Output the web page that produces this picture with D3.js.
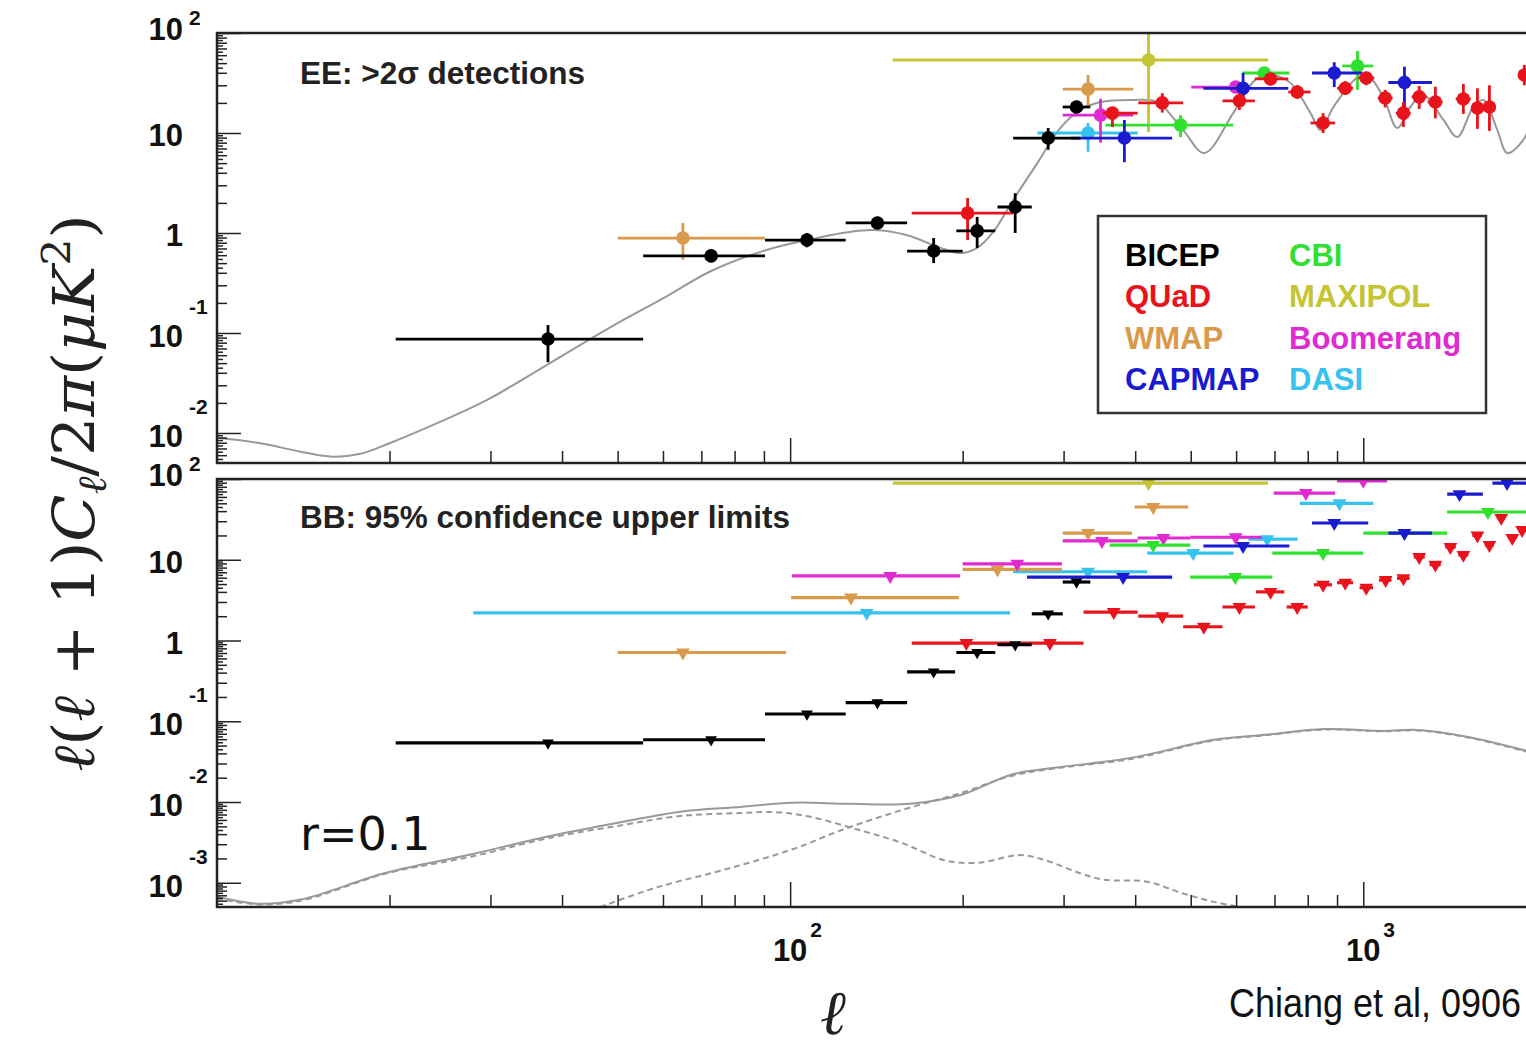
<!DOCTYPE html>
<html>
<head>
<meta charset="utf-8">
<script src="https://cdn.jsdelivr.net/npm/d3@7"></script>
<style>
body { margin: 0; background: #fff; }
svg { display: block; }
</style>
</head>
<body>
<div id="chart"></div>
<script>
// experiments (legend order, two columns)
var legendLeft = ["BICEP", "QUaD", "WMAP", "CAPMAP"];
var legendRight = ["CBI", "MAXIPOL", "Boomerang", "DASI"];
var colors = {
	BICEP: "#000000", QUaD: "#e8141c", WMAP: "#d99a4c", CAPMAP: "#1a1ad0",
	CBI: "#2fe02f", MAXIPOL: "#c4c434", Boomerang: "#e02ad2", DASI: "#36c2ee"
};

// EE >2 sigma detections: [ell, ellLo, ellHi, value, valueLo, valueHi]
var eeMAXIPOL = [[422, 151, 682, 53.7, 10.2, 150]];
var eeDASI = [[331, 270, 404, 10, 6.5, 12.6]];
var eeWMAP = [[65, 50, 90.4, 0.89, 0.54, 1.26], [331, 299, 397, 27.5, 18, 38]];
var eeBoomerang = [[348, 299, 397, 15.1, 8, 22], [599, 501, 610, 28.8, 25, 33]];
var eeCBI = [[480, 355, 593, 12, 9.1, 15.1], [672, 615, 743, 39.8, 35, 45], [977, 919, 1041, 46.8, 27, 66]];
var eeCAPMAP = [[383, 309, 464, 8.9, 5.1, 13.5], [617, 526, 740, 28, 21, 40], [890, 814, 996, 39.8, 28.8, 51], [1180, 1106, 1318, 32, 13.5, 46]];
var eeQUaD = [
	[204, 163, 245, 1.58, 0.85, 2.24], [365, 351, 404, 15.8, 11.5, 18.2], [446, 405, 485, 20, 16, 25],
	[608, 568, 647, 21, 17, 25], [689, 647, 740, 34.7, 30, 40], [767, 740, 809, 25.7, 22, 30],
	[851, 809, 893, 12.6, 10, 15.8], [930, 900, 960, 28, 24, 33], [1012, 980, 1045, 35.5, 30, 41],
	[1092, 1060, 1125, 22.4, 18, 27], [1175, 1140, 1210, 15.8, 11.5, 20.4], [1252, 1215, 1290, 23, 17.4, 29.5],
	[1336, 1295, 1375, 20.4, 14, 29], [1495, 1450, 1540, 21.9, 15.5, 31], [1582, 1545, 1620, 17.8, 11, 28],
	[1660, 1625, 1700, 18.2, 10.5, 30], [1910, 1870, 1950, 38, 30, 48]
];
var eeBICEP = [
	[37.8, 20.5, 55.4, 0.087, 0.051, 0.12], [72.8, 55.4, 90.4, 0.59, 0.51, 0.68], [107, 90.4, 125, 0.85, 0.72, 1.0],
	[142, 125, 160, 1.26, 1.1, 1.45], [178, 160, 200, 0.66, 0.5, 0.89], [212, 195, 228, 1.05, 0.71, 1.45],
	[247, 230, 264, 1.82, 1.0, 2.5], [282, 245, 321, 8.9, 6.8, 11.2], [316, 299, 334, 18.2, 16, 21]
];

// BB 95% upper limits: [ell, ellLo, ellHi, limit]
var bbMAXIPOL = [[422, 151, 682, 89]];
var bbDASI = [[136, 28, 242, 2.2], [331, 245, 420, 7.1], [505, 420, 594, 12.1], [680, 630, 768, 18], [909, 775, 1041, 50]];
var bbWMAP = [[65, 50, 98.4, 0.71], [127.7, 100.4, 197, 3.4], [230, 200, 298, 7.6], [331, 299, 395, 21.4], [430, 399, 495, 45]];
var bbBoomerang = [[149.5, 100.8, 198, 6.3], [249, 200, 298, 8.9], [350, 299, 404, 17.1], [448, 404, 499, 18.6], [599, 499, 665, 19], [794, 698, 893, 67], [1000, 900, 1100, 95]];
var bbCBI = [[1180, 1000, 1401, 21.4], [1650, 1401, 1950, 39], [430, 361, 499, 15.2], [598, 499, 694, 6.1], [851, 694, 1000, 12.1]];
var bbCAPMAP = [[381, 259, 464, 6.1], [617, 526, 743, 14.8], [890, 814, 1020, 28.5], [1180, 1106, 1318, 21.4], [1472, 1401, 1617, 65], [1782, 1680, 1950, 89]];
var bbQUaD = [
	[203, 163, 245, 0.93], [284, 249, 325, 0.93], [367, 325, 404, 2.25], [446, 405, 485, 2.0],
	[527, 485, 568, 1.48], [608, 568, 647, 2.6], [689, 650, 728, 4.0], [767, 735, 800, 2.6],
	[851, 820, 882, 4.9], [930, 900, 960, 5.2], [1012, 985, 1040, 4.5], [1094, 1065, 1120, 5.6],
	[1175, 1145, 1205, 5.9], [1252, 1225, 1280, 10.8], [1336, 1305, 1365, 8.7], [1419, 1390, 1450, 14.4],
	[1495, 1465, 1525, 11.5], [1582, 1550, 1610, 20], [1660, 1630, 1690, 15.2], [1741, 1710, 1770, 33],
	[1820, 1790, 1850, 18.6], [1893, 1865, 1925, 23.4]
];
var bbBICEP = [
	[37.8, 20.5, 55.4, 0.054], [72.8, 55.4, 90.4, 0.059], [107, 90.4, 125, 0.123], [142, 125, 160, 0.17],
	[178, 160, 194, 0.41], [212, 195, 228, 0.71], [247, 230, 264, 0.89], [282, 264, 299, 2.14], [316, 299, 334, 5.3]
];

// theory curves
var eeTheoryEll = [10.1, 11.9, 14.0, 15.9, 17.8, 20.0, 24.5, 29.6, 38.1, 48.7, 61, 72.8, 91.2, 107, 126, 140, 160, 183, 198, 212, 226, 245, 270, 296, 321, 348, 397, 437, 485, 528, 593, 648, 683, 743, 809, 842, 887, 977, 1016, 1084, 1146, 1208, 1273, 1380, 1459, 1556, 1620, 1714, 1783, 1901, 1954];
var eeTheoryVal = [0.0089, 0.0079, 0.0065, 0.0058, 0.0062, 0.0079, 0.0129, 0.0214, 0.050, 0.115, 0.234, 0.417, 0.68, 0.85, 1.02, 1.07, 0.95, 0.71, 0.63, 0.71, 1.02, 2.14, 5.0, 11.2, 17, 20.4, 21.4, 20.4, 10.7, 6.3, 15.8, 34, 38, 32.4, 15.8, 10.7, 18.2, 36, 38, 22.9, 11.2, 18.2, 24, 13.5, 9.1, 18.2, 21.4, 10.7, 6.3, 8.5, 12];
var bbTotalEll = [10, 11.8, 14.0, 19.7, 27.7, 38.1, 51.1, 64.3, 82, 100.8, 127, 162, 199, 243, 289, 392, 549, 674, 855, 1083, 1242, 1524, 1954];
var bbTotalVal = [0.00067, 0.00055, 0.00062, 0.00133, 0.00224, 0.0038, 0.0057, 0.0076, 0.0087, 0.0098, 0.0095, 0.0095, 0.0123, 0.0218, 0.0265, 0.035, 0.059, 0.068, 0.080, 0.076, 0.078, 0.064, 0.042];
var bbTensorEll = [10, 11.8, 14.0, 19.7, 27.7, 38.1, 51.1, 64.3, 82, 94.2, 108, 132, 157, 186, 213, 252, 279, 319, 353, 420, 481, 549, 622];
var bbTensorVal = [0.00064, 0.00054, 0.0006, 0.0013, 0.0021, 0.0036, 0.0052, 0.0067, 0.0073, 0.0075, 0.0066, 0.0045, 0.0031, 0.0019, 0.00177, 0.0022, 0.0019, 0.00133, 0.00109, 0.00103, 0.00075, 0.00058, 0.00049];
var bbLensEll = [46.6, 58.3, 76.7, 101, 123, 157, 199, 243, 289, 392, 549, 674, 855, 1083, 1242, 1524, 1954];
var bbLensVal = [0.0005, 0.00087, 0.00145, 0.0026, 0.0045, 0.008, 0.013, 0.021, 0.026, 0.034, 0.058, 0.067, 0.079, 0.075, 0.077, 0.063, 0.041];

var xMajor = [100, 1000];

// canvas
var W = 1526, H = 1052;
var svg = d3.select("#chart").append("svg")
	.attr("width", W)
	.attr("height", H)
	.style("font-family", "'Liberation Sans', Arial, sans-serif");
svg.append("rect").attr("width", W).attr("height", H).attr("fill", "#fff");

var left = 217, right = 1530;
var x = d3.scaleLog().domain([10, 1954]).range([left, right]);
var yEE = d3.scaleLog().domain([Math.pow(10, -2.3), 100]).range([463, 33]);
var yBB = d3.scaleLog().domain([Math.pow(10, -3.3), 100]).range([907, 479]);

var line = (y) => d3.line().x(d => x(d[0])).y(d => y(d[1])).curve(d3.curveCatmullRom.alpha(0.5));
var zip = (a, b) => a.map((v, i) => [v, b[i]]);

function panel(y, id) {
	var top = y.range()[1], bottom = y.range()[0];
	svg.append("clipPath").attr("id", id)
		.append("rect").attr("x", left).attr("y", top).attr("width", right - left).attr("height", bottom - top);
	var g = svg.append("g").attr("clip-path", "url(#" + id + ")");

	// log ticks on the left axis
	var lo = y.domain()[0], hi = y.domain()[1];
	var major = [], minor = [], tiny = [];
	for (var d = Math.floor(Math.log10(lo)); d <= 2; d++) {
		var p = Math.pow(10, d);
		if (p >= lo && p <= hi) major.push(p);
		for (var m = 2; m <= 9; m++) if (m * p >= lo && m * p <= hi) minor.push(m * p);
		for (var m = 4; m <= 9; m++) if ((m + 0.5) * p >= lo && (m + 0.5) * p <= hi) tiny.push((m + 0.5) * p);
	}
	var axes = svg.append("g").attr("class", "axes");
	[[tiny, -6], [minor, -10], [major, -24]].forEach(function (t) {
		axes.append("g")
			.attr("transform", "translate(" + left + ",0)")
			.call(d3.axisLeft(y).tickValues(t[0]).tickSize(t[1]).tickFormat(""))
			.call(s => s.select(".domain").remove());
	});
	var xMinor = x.ticks().filter(v => v > 10 && xMajor.indexOf(v) < 0);
	[[xMinor, -12], [xMajor, -25]].forEach(function (t) {
		axes.append("g")
			.attr("transform", "translate(0," + bottom + ")")
			.call(d3.axisBottom(x).tickValues(t[0]).tickSize(t[1]).tickFormat(""))
			.call(s => s.select(".domain").remove());
	});
	axes.selectAll("line").attr("stroke", "#222").attr("stroke-width", 1.5);

	// decade labels
	major.forEach(function (v) {
		var e = Math.round(Math.log10(v));
		var yy = y(v);
		var t = svg.append("text")
			.attr("font-weight", "bold")
			.attr("fill", "#111");
		if (e === 0 || e === 1) {
			t.attr("x", 183).attr("y", yy + 13).attr("text-anchor", "end")
				.attr("font-size", 31).text(e === 0 ? "1" : "10");
		} else {
			var base = e > 0 ? yy + 7 : yy + 14;
			t.attr("x", 183).attr("y", base).attr("text-anchor", "end")
				.attr("font-size", 31).text("10");
			svg.append("text")
				.attr("x", 189).attr("y", e > 0 ? yy - 8 : yy - 19)
				.attr("font-weight", "bold").attr("font-size", 21).attr("fill", "#111")
				.text(e);
		}
	});

	svg.append("rect")
		.attr("x", left).attr("y", top).attr("width", right - left).attr("height", bottom - top)
		.attr("fill", "none").attr("stroke", "#222").attr("stroke-width", 2.5);
	return g;
}

// ---- top panel: EE detections
var gEE = panel(yEE, "clipEE");
gEE.append("path")
	.datum(zip(eeTheoryEll, eeTheoryVal))
	.attr("d", line(yEE))
	.attr("fill", "none").attr("stroke", "#999").attr("stroke-width", 2);

var eeSets = [["MAXIPOL", eeMAXIPOL], ["DASI", eeDASI], ["WMAP", eeWMAP], ["Boomerang", eeBoomerang],
	["CBI", eeCBI], ["CAPMAP", eeCAPMAP], ["QUaD", eeQUaD], ["BICEP", eeBICEP]];
eeSets.forEach(function (s) {
	var c = colors[s[0]];
	var g = gEE.append("g").attr("class", "ee-" + s[0]);
	g.selectAll(".hbar").data(s[1]).enter().append("line")
		.attr("x1", d => x(d[1])).attr("x2", d => x(d[2]))
		.attr("y1", d => yEE(d[3])).attr("y2", d => yEE(d[3]))
		.attr("stroke", c).attr("stroke-width", 2.8);
	g.selectAll(".vbar").data(s[1]).enter().append("line")
		.attr("x1", d => x(d[0])).attr("x2", d => x(d[0]))
		.attr("y1", d => yEE(d[4])).attr("y2", d => yEE(d[5]))
		.attr("stroke", c).attr("stroke-width", 2.8);
	g.selectAll("circle").data(s[1]).enter().append("circle")
		.attr("cx", d => x(d[0])).attr("cy", d => yEE(d[3]))
		.attr("r", 6.8).attr("fill", c);
});

svg.append("text")
	.attr("x", 300).attr("y", 84)
	.attr("font-weight", "bold").attr("font-size", 31.5).attr("fill", "#222")
	.text("EE: >2σ detections");

// legend
var leg = svg.append("g");
leg.append("rect")
	.attr("x", 1098).attr("y", 216).attr("width", 388).attr("height", 197)
	.attr("fill", "#fff").attr("stroke", "#333").attr("stroke-width", 2.5);
[[legendLeft, 1125], [legendRight, 1289]].forEach(function (col) {
	leg.selectAll(null).data(col[0]).enter().append("text")
		.attr("x", col[1]).attr("y", (d, i) => 266 + i * 41.3)
		.attr("font-weight", "bold").attr("font-size", 31)
		.attr("fill", d => colors[d])
		.text(d => d);
});

// ---- bottom panel: BB upper limits
var gBB = panel(yBB, "clipBB");
gBB.append("path")
	.datum(zip(bbTensorEll, bbTensorVal))
	.attr("d", line(yBB))
	.attr("fill", "none").attr("stroke", "#999").attr("stroke-width", 2).attr("stroke-dasharray", "6,4");
gBB.append("path")
	.datum(zip(bbLensEll, bbLensVal))
	.attr("d", line(yBB))
	.attr("fill", "none").attr("stroke", "#999").attr("stroke-width", 2).attr("stroke-dasharray", "6,4");
gBB.append("path")
	.datum(zip(bbTotalEll, bbTotalVal))
	.attr("d", line(yBB))
	.attr("fill", "none").attr("stroke", "#999").attr("stroke-width", 2);

var bbSets = [["MAXIPOL", bbMAXIPOL], ["DASI", bbDASI], ["WMAP", bbWMAP], ["Boomerang", bbBoomerang],
	["CBI", bbCBI], ["CAPMAP", bbCAPMAP], ["QUaD", bbQUaD], ["BICEP", bbBICEP]];
bbSets.forEach(function (s) {
	var c = colors[s[0]];
	var g = gBB.append("g").attr("class", "bb-" + s[0]);
	g.selectAll("line").data(s[1]).enter().append("line")
		.attr("x1", d => x(d[1])).attr("x2", d => x(d[2]))
		.attr("y1", d => yBB(d[3])).attr("y2", d => yBB(d[3]))
		.attr("stroke", c).attr("stroke-width", 3.2);
	g.selectAll("path").data(s[1]).enter().append("path")
		.attr("d", d3.symbol().type(d3.symbolTriangle).size(s[0] === "BICEP" ? 60 : 82))
		.attr("transform", d => "translate(" + x(d[0]) + "," + yBB(d[3]) + ") rotate(180)")
		.attr("fill", c);
});

svg.append("text")
	.attr("x", 300).attr("y", 528)
	.attr("font-weight", "bold").attr("font-size", 31.5).attr("fill", "#222")
	.text("BB: 95% confidence upper limits");
svg.append("text")
	.attr("x", 300).attr("y", 850)
	.attr("font-family", "'DejaVu Sans', sans-serif").attr("font-size", 46).attr("fill", "#111")
	.text("r=0.1");

// x tick labels
xMajor.forEach(function (v) {
	var xx = x(v);
	svg.append("text")
		.attr("x", xx).attr("y", 961).attr("text-anchor", "middle")
		.attr("font-weight", "bold").attr("font-size", 31).attr("fill", "#111")
		.text("10");
	svg.append("text")
		.attr("x", xx + 20).attr("y", 937)
		.attr("font-weight", "bold").attr("font-size", 21).attr("fill", "#111")
		.text(Math.round(Math.log10(v)));
});

// axis titles
svg.append("text")
	.attr("x", 833).attr("y", 1034).attr("text-anchor", "middle")
	.attr("font-family", "'DejaVu Serif', serif").attr("font-style", "italic").attr("font-size", 62)
	.attr("fill", "#222")
	.text("ℓ");

var yl = svg.append("text")
	.attr("transform", "translate(94,493) rotate(-90)")
	.attr("text-anchor", "middle")
	.attr("font-family", "'DejaVu Serif', 'Liberation Serif', serif")
	.attr("font-size", 58).attr("fill", "#222")
	.attr("textLength", 557).attr("lengthAdjust", "spacingAndGlyphs");
yl.append("tspan").attr("font-style", "italic").text("ℓ");
yl.append("tspan").text("(");
yl.append("tspan").attr("font-style", "italic").text("ℓ");
yl.append("tspan").text(" + 1)");
yl.append("tspan").attr("font-style", "italic").text("C");
yl.append("tspan").attr("font-style", "italic").attr("font-size", 40).attr("dy", 12).text("ℓ");
yl.append("tspan").attr("dy", -12).text("/2");
yl.append("tspan").attr("font-style", "italic").text("π");
yl.append("tspan").text("(");
yl.append("tspan").attr("font-style", "italic").text("μK");
yl.append("tspan").attr("font-size", 40).attr("dy", -24).text("2");
yl.append("tspan").attr("dy", 24).text(")");

// source note, a bit condensed like the original
svg.append("text")
	.attr("transform", "translate(1229,1017) scale(1,1.15)")
	.attr("font-size", 36).attr("fill", "#111")
	.text("Chiang et al, 0906");
</script>
</body>
</html>
